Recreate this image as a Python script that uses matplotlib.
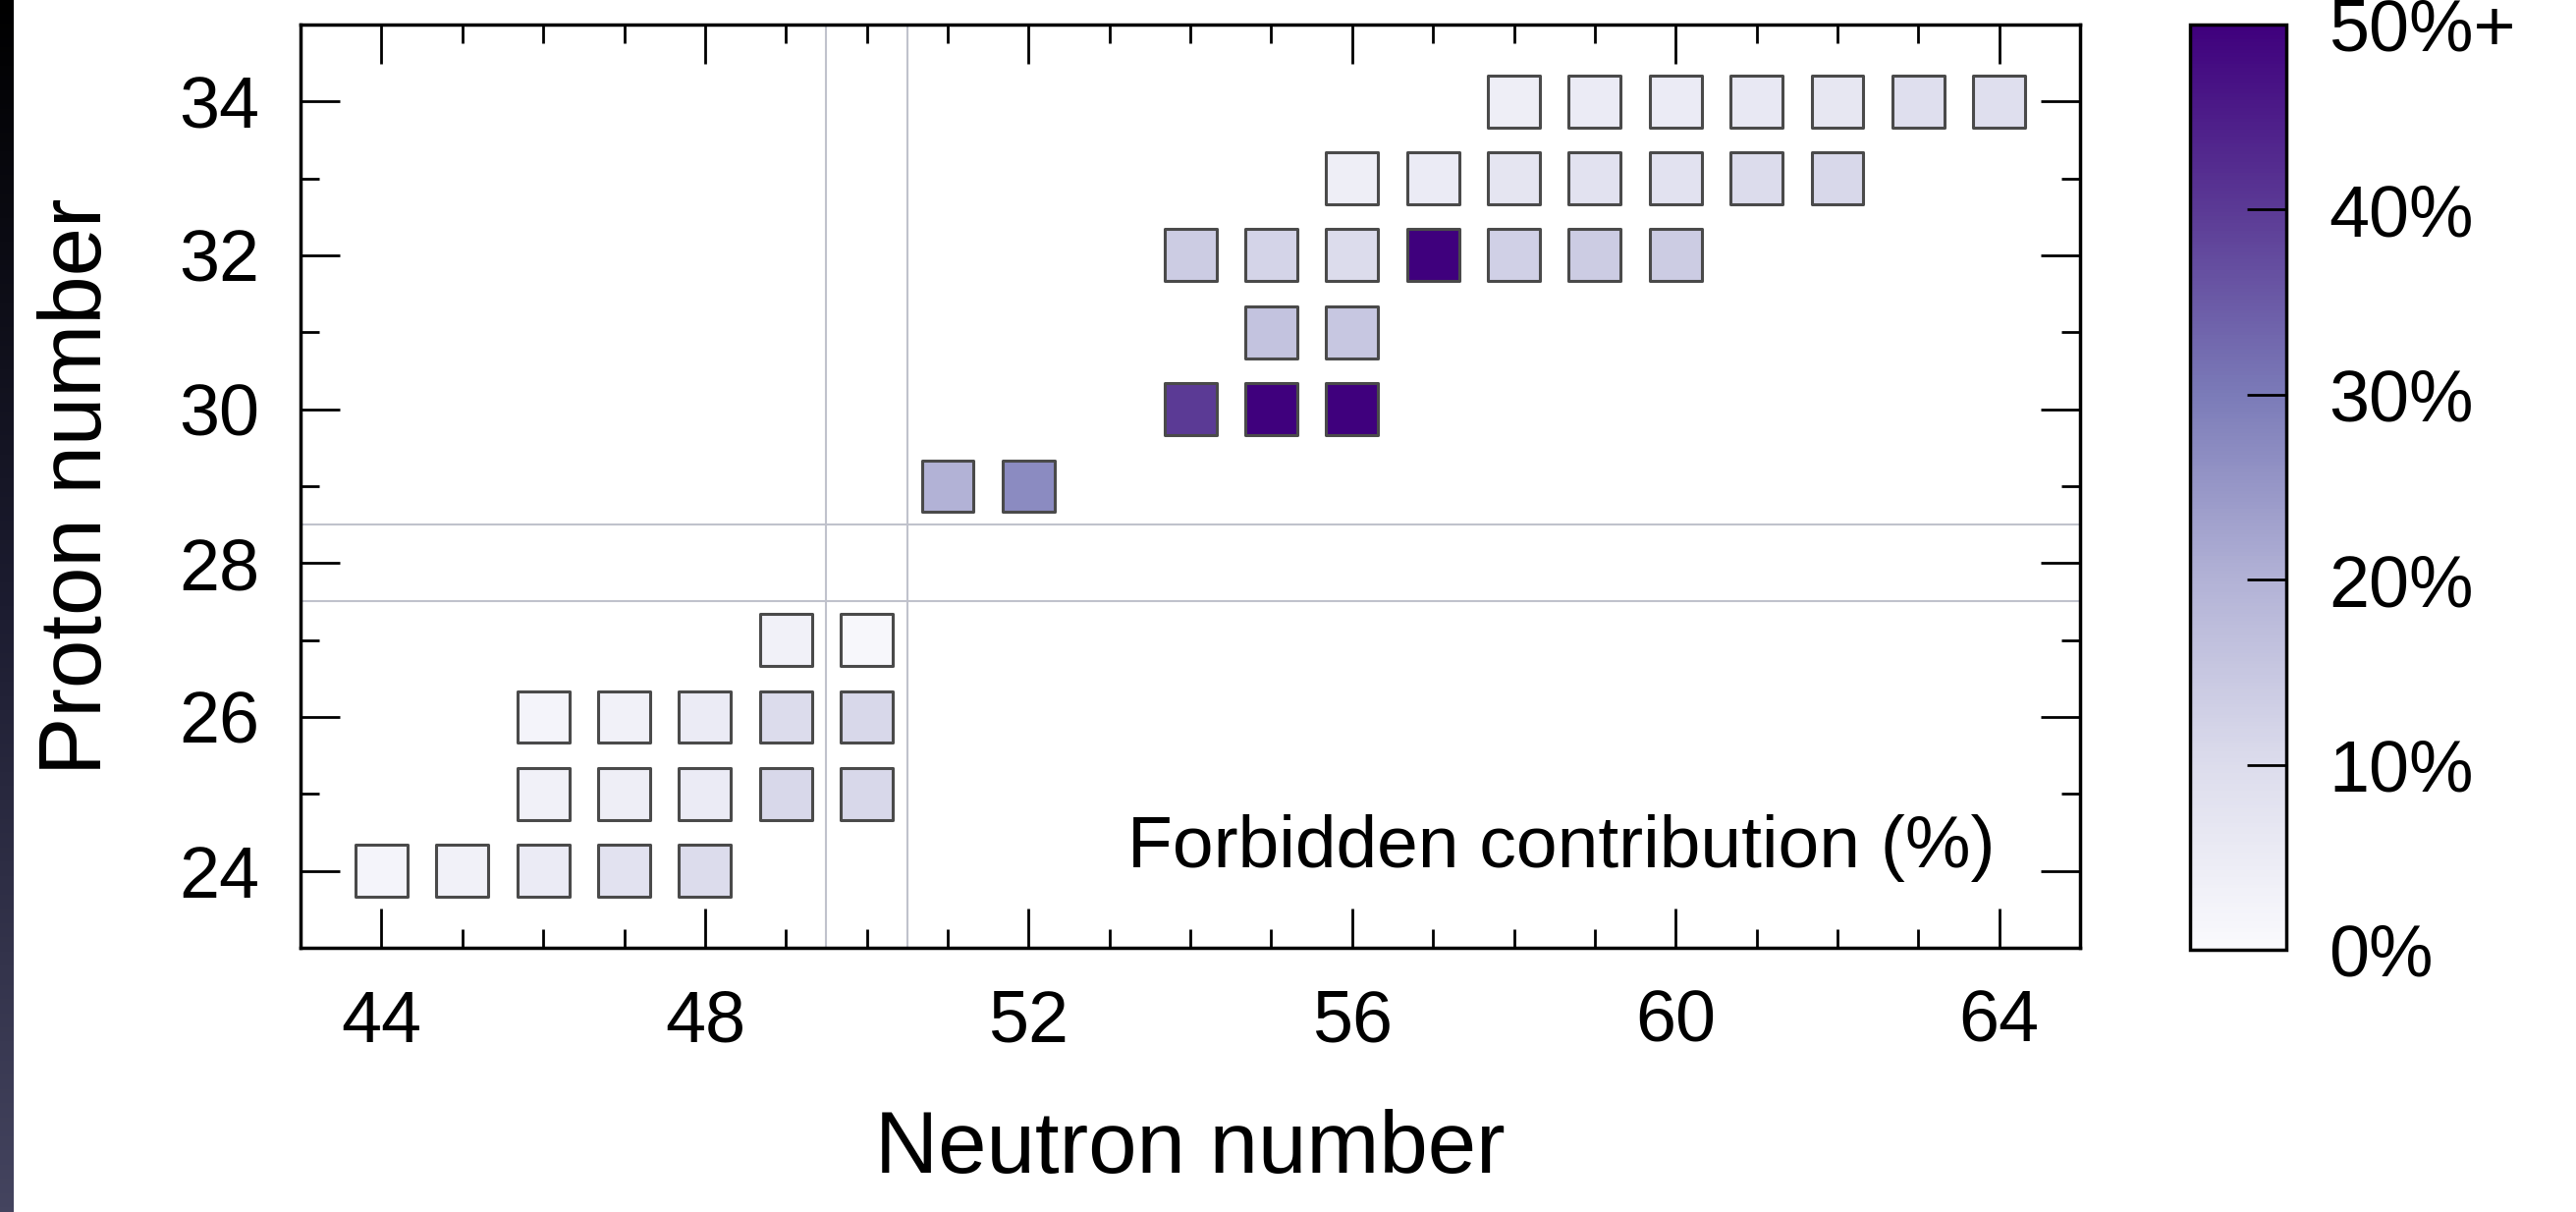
import numpy as np
import matplotlib
matplotlib.use("Agg")
import matplotlib.pyplot as plt
from matplotlib.colors import LinearSegmentedColormap, Normalize
from matplotlib.ticker import MultipleLocator

plt.rcParams['font.family'] = ['Liberation Sans', 'DejaVu Sans']

## data : forbidden contribution (%) per nucleus
neutrons = [44, 45, 46, 47, 48,
            46, 47, 48, 49, 50,
            46, 47, 48, 49, 50,
            49, 50,
            51, 52,
            54, 55, 56,
            55, 56,
            54, 55, 56, 57, 58, 59, 60,
            56, 57, 58, 59, 60, 61, 62,
            58, 59, 60, 61, 62, 63, 64]
protons = [24, 24, 24, 24, 24,
           25, 25, 25, 25, 25,
           26, 26, 26, 26, 26,
           27, 27,
           29, 29,
           30, 30, 30,
           31, 31,
           32, 32, 32, 32, 32, 32, 32,
           33, 33, 33, 33, 33, 33, 33,
           34, 34, 34, 34, 34, 34, 34]
forbidden = [2, 3, 5, 8, 10,
             3, 4, 5, 11, 11,
             2, 3, 5, 10, 11,
             3, 1,
             20, 27,
             40, 60, 60,
             16, 15,
             14, 12, 10, 60, 13, 14, 14,
             4, 5, 7, 8, 8, 10, 11,
             4, 5, 5, 6, 6.5, 9, 9]

magic_n = [50]
magic_z = [28]
cbar_ticks = [0, 10, 20, 30, 40, 50]
cbar_labels = ['0%', '10%', '20%', '30%', '40%', '50%+']

# colour scale, white -> deep purple, saturates at 50%
cmap = LinearSegmentedColormap.from_list(
    'forb', [(0.0, '#fafafd'), (0.2, '#dcdcec'), (0.4, '#b2b2d6'),
             (0.6, '#7b7bb8'), (0.8, '#5b3a95'), (1.0, '#3f007d')])
norm = Normalize(vmin=0, vmax=50)

fig = plt.figure(figsize=(26.23, 12.34), dpi=100)
ax = fig.add_axes([0.1167, 0.218, 0.6908, 0.7618])
cax = fig.add_axes([0.8502, 0.2164, 0.0374, 0.7634])

# dark strip on the left edge of the picture
sax = fig.add_axes([0, 0, 0.005, 1])
strip = LinearSegmentedColormap.from_list('strip', ['#000000', '#1c1c30', '#44445f'])
sax.imshow(np.linspace(0, 1, 256).reshape(-1, 1), cmap=strip, aspect='auto')
sax.axis('off')

# shell closures
for n in magic_n:
    ax.axvline(n - 0.5, color='#c0c2cc', lw=1.5, zorder=0)
    ax.axvline(n + 0.5, color='#c0c2cc', lw=1.5, zorder=0)
for z in magic_z:
    ax.axhline(z - 0.5, color='#c0c2cc', lw=1.5, zorder=0)
    ax.axhline(z + 0.5, color='#c0c2cc', lw=1.5, zorder=0)

sc = ax.scatter(neutrons, protons, c=forbidden, cmap=cmap, norm=norm,
                marker='s', s=1450, edgecolors='#4a4a4a', linewidths=2.2, zorder=3)

ax.set_xlim(43, 65)
ax.set_ylim(23, 35)
ax.xaxis.set_major_locator(MultipleLocator(4))
ax.xaxis.set_minor_locator(MultipleLocator(1))
ax.yaxis.set_major_locator(MultipleLocator(2))
ax.yaxis.set_minor_locator(MultipleLocator(1))
ax.tick_params(which='both', direction='in', top=True, right=True, width=2)
ax.tick_params(which='major', length=29, labelsize=53, pad=30)
ax.tick_params(which='minor', length=14)
for sp in ax.spines.values():
    sp.set_linewidth(2.5)

ax.set_xlabel('Neutron number', fontsize=64, va='center')
ax.xaxis.set_label_coords(0.5, -0.219)
ax.set_ylabel('Proton number', fontsize=64, va='center')
ax.yaxis.set_label_coords(-0.125, 0.5)

ax.text(63.95, 24.3, 'Forbidden contribution (%)', fontsize=54,
        ha='right', va='center')

cb = fig.colorbar(sc, cax=cax, ticks=cbar_ticks)
cb.ax.set_yticklabels(cbar_labels)
cb.outline.set_linewidth(2.5)
cb.ax.tick_params(direction='in', length=29, width=2, labelsize=53, pad=31)

fig.savefig('out.png', dpi=100)
